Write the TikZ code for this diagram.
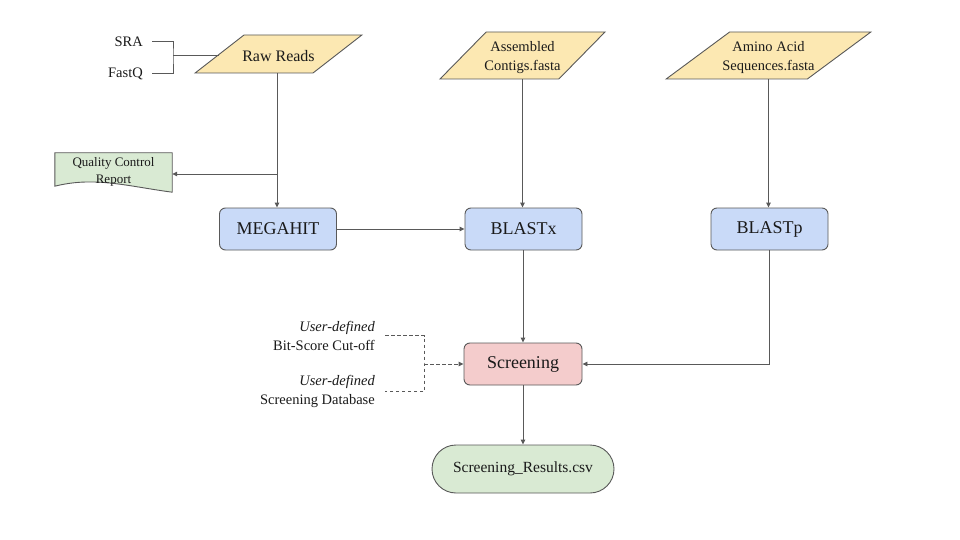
\documentclass[tikz,border=0pt]{standalone}
\usepackage{fontspec}
\setmainfont{LiberationSerif}[Extension=.ttf, UprightFont=*-Regular, ItalicFont=*-Italic, BoldFont=*-Bold, BoldItalicFont=*-BoldItalic]
\usetikzlibrary{arrows.meta,shapes.geometric}
\definecolor{lnc}{HTML}{595959}
\definecolor{yel}{HTML}{FCE8B2}
\definecolor{blu}{HTML}{C9DAF8}
\definecolor{pnk}{HTML}{F4CCCC}
\definecolor{grn}{HTML}{D9EAD3}
\definecolor{txt}{HTML}{1A1A1A}
\tikzset{
  line/.style={draw=lnc, line width=0.9pt},
  arr/.style={line, -{Triangle[length=5pt,width=4.5pt]}},
  dline/.style={line, dash pattern=on 3.5pt off 2.5pt},
  io/.style={trapezium, trapezium stretches=true, draw=lnc, line width=0.9pt, fill=yel,
    inner sep=0pt},
  iotext/.style={text=txt, align=center, inner sep=0pt, font=\fontsize{14.5}{19}\selectfont},
  proc/.style={rectangle, rounded corners=6pt, draw=lnc, line width=0.9pt, fill=blu,
    text=txt, minimum width=117pt, minimum height=42pt, inner sep=0pt,
    font=\fontsize{18}{22}\selectfont},
  lbl/.style={text=txt, inner sep=0pt, align=right, font=\fontsize{14.5}{19}\selectfont},
}
\begin{document}
\begin{tikzpicture}[x=1pt,y=-1pt]
\useasboundingbox (0,0) rectangle (960,540);
\fill[white] (0,0) rectangle (960,540);

% inputs
\node[io, trapezium left angle=52, trapezium right angle=128, minimum width=167pt,
  minimum height=38pt] (rr) at (278.5,54) {\phantom{X}};
\node[iotext, font=\fontsize{16}{20}\selectfont] (rrt) at ([yshift=-2.5pt]rr.center) {Raw Reads};
\node[io, trapezium left angle=55, trapezium right angle=125, minimum width=165pt,
  minimum height=47pt] (ac) at (522.5,55.5) {\phantom{X}};
\node[iotext] (act) at ([yshift=-2.5pt]ac.center) {Assembled\\Contigs.fasta};
\node[io, trapezium left angle=48, trapezium right angle=132, minimum width=205pt,
  minimum height=47pt] (aa) at (768.5,55.5) {\phantom{X}};
\node[iotext] (aat) at ([yshift=-2.5pt]aa.center) {Amino Acid\\Sequences.fasta};

% SRA / FastQ
\node[lbl, anchor=east] (sra) at (143,42) {SRA};
\node[lbl, anchor=east] (fq) at (143,74) {FastQ};
\coordinate (br) at (173,55);
\draw[line] ([xshift=9pt,yshift=1pt]sra.east) -| (br) |- ([xshift=9pt,yshift=1pt]fq.east);
\draw[line] (br) -- (br -| rr.left side);

% processes
\node[proc] (meg) at (278,229) {MEGAHIT};
\node[proc] (bx) at (523.5,229) {BLASTx};
\node[proc] (bp) at (769.5,229) {BLASTp};
\node[proc, fill=pnk, minimum width=118pt] (scr) at (523,364) {Screening};
\node[rectangle, rounded corners=24pt, draw=lnc, line width=0.9pt, fill=grn, text=txt,
  minimum width=182pt, minimum height=48pt, inner sep=0pt,
  font=\fontsize{15.5}{19}\selectfont] (res) at (523,469) {Screening\_Results.csv};

% quality control report (document shape)
\node[inner sep=0pt, minimum width=117pt, minimum height=36pt] (qc) at (113.5,171) {};
\path[line, fill=grn] (qc.north west) -- (qc.north east) -- ([yshift=-3pt]qc.south east)
  .. controls +(-45,-6) and +(40,-10) .. ([yshift=3pt]qc.south west) -- cycle;
\node[text=txt, align=center, inner sep=0pt,
  font=\fontsize{13}{17}\selectfont] (qct) at ([yshift=-1pt]qc.center) {Quality Control\\Report};

% user-defined inputs
\node[lbl] (ud1) at (375,335.5) [anchor=east] {\textit{User-defined}\\Bit-Score Cut-off};
\node[lbl] (ud2) at (375,391.5) [anchor=east] {\textit{User-defined}\\Screening Database};
\coordinate (dj) at (424,364);
\draw[dline] ([xshift=10pt]ud1.east) -| (dj) |- ([xshift=10pt]ud2.east);
\draw[dline, -{Triangle[length=5pt,width=4.5pt]}] (dj) -- (scr.west);

% connectors
\coordinate (qcj) at (277,174);
\draw[arr] (rr.south -| qcj) -- (meg.north -| qcj);
\draw[arr] (qcj) -- (qcj -| qc.east);
\draw[arr] (meg.east) -- (bx.west);
\draw[arr] (ac.south) -- (bx.north -| ac.south);
\draw[arr] (aa.south) -- (bp.north -| aa.south);
\draw[arr] (bx.south -| scr.north) -- (scr.north);
\draw[arr] (bp.south) |- (scr.east);
\draw[arr] (scr.south) -- (res.north);
\end{tikzpicture}
\end{document}
